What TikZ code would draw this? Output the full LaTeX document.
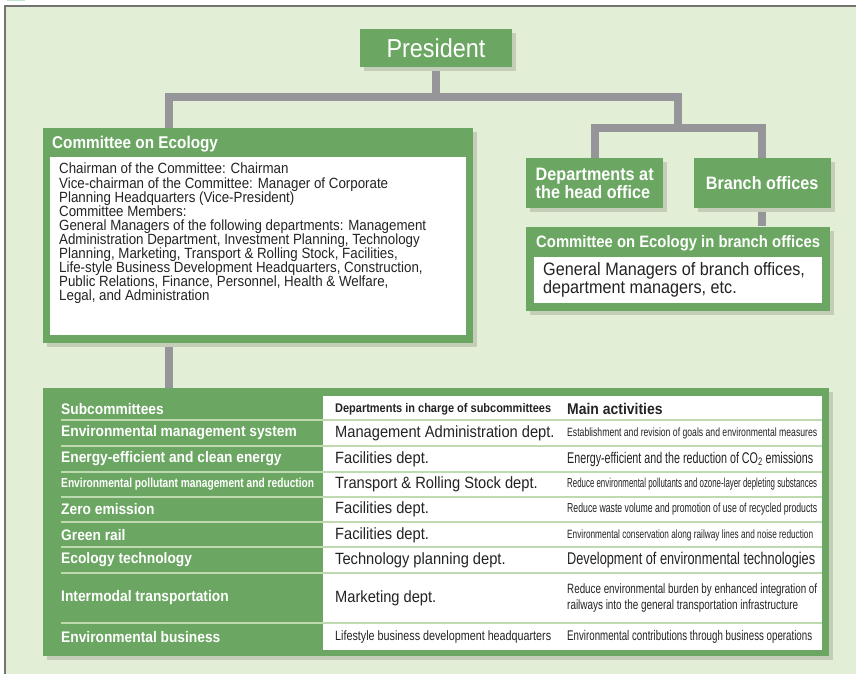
\documentclass[tikz,border=0pt]{standalone}
\usepackage{fontspec}
\setmainfont{Liberation Sans}[FakeStretch=0.9]
\usetikzlibrary{shadows,backgrounds,positioning}
\definecolor{ecogreen}{RGB}{107,166,98}
\definecolor{ecobg}{RGB}{226,239,214}
\definecolor{ecoshadow}{RGB}{196,205,184}
\definecolor{linkgray}{RGB}{150,150,154}
\definecolor{rowline}{RGB}{190,218,176}
\definecolor{framegray}{RGB}{115,115,115}
\definecolor{titlemark}{RGB}{190,230,214}
\definecolor{ink}{RGB}{35,35,35}
\newcommand{\sz}[2]{\fontsize{#1}{#2}\selectfont}
\newcommand{\fitw}[2]{\resizebox{#1pt}{\height}{#2}}
\begin{document}
\begin{tikzpicture}[x=1pt,y=-1pt,line join=miter,
	greenbox/.style={fill=ecogreen,text=white,inner sep=0pt,drop shadow={shadow xshift=4pt,shadow yshift=-4pt,fill=ecoshadow,opacity=1}},
	whitebox/.style={fill=white,inner sep=0pt},
	head/.style={text=white,inner sep=0pt,align=left},
	body/.style={text=ink,inner sep=0pt,align=left},
	link/.style={draw=linkgray,line width=8pt}]
	\useasboundingbox (0,0) rectangle (856,674);
	\begin{scope}[on background layer]
		\clip (0,0) rectangle (856,674);
		\fill[titlemark] (7,-6) rectangle (25,1.5);
		\filldraw[fill=ecobg,draw=framegray,line width=1.2pt] (5,6) rectangle (880,700);
	\end{scope}
	% top of the chart
	\node[greenbox,minimum width=152pt,minimum height=38pt,font=\sz{26}{28}] (pres) at (436,48) {President};
	\node[greenbox,minimum width=430pt,minimum height=215pt,anchor=north west] (eco) at (43,128) {};
	\node[head,font=\bfseries\sz{17}{19},anchor=base west] (ecotitle) at ([shift={(9,20)}]eco.north west) {Committee on Ecology};
	\node[whitebox,minimum width=416pt,minimum height=178pt,anchor=north west] (ecobody) at ([shift={(7,29)}]eco.north west) {};
	\node[body,font=\sz{14.8}{14.1},anchor=north west] (ecotext) at ([shift={(9,6)}]ecobody.north west) {Chairman of the Committee: Chairman\\
		Vice-chairman of the Committee: Manager of Corporate\\
		Planning Headquarters (Vice-President)\\
		Committee Members:\\
		General Managers of the following departments: Management\\
		Administration Department, Investment Planning, Technology\\
		Planning, Marketing, Transport \& Rolling Stock, Facilities,\\
		Life-style Business Development Headquarters, Construction,\\
		Public Relations, Finance, Personnel, Health \& Welfare,\\
		Legal, and Administration};
	% right side
	\node[greenbox,head,font=\bfseries\sz{18}{18},minimum width=137pt,minimum height=50pt,anchor=north west] (dept) at (526,158) {Departments at\\the head office};
	\node[greenbox,head,font=\bfseries\sz{18}{18},minimum width=137pt,minimum height=50pt,right=30pt of dept] (branch) {Branch offices};
	\node[greenbox,minimum width=304pt,minimum height=84pt,anchor=north west] (beco) at ([yshift=-18pt]dept.south west) {};
	\node[head,font=\bfseries\sz{16.5}{18},anchor=base west] (becotitle) at ([shift={(10,21)}]beco.north west) {Committee on Ecology in branch offices};
	\node[whitebox,minimum width=288pt,minimum height=46pt,anchor=north west] (becobody) at ([shift={(8,30)}]beco.north west) {};
	\node[body,font=\sz{18}{18},anchor=west] (becotext) at ([xshift=9pt]becobody.west) {General Managers of branch offices,\\department managers, etc.};
	% subcommittee table
	\node[greenbox,minimum width=786pt,minimum height=268pt,anchor=north west] (tab) at (43,388) {};
	\node[whitebox,minimum width=499pt,minimum height=254pt,anchor=north west] (tabw) at ([shift={(280,8)}]tab.north west) {};
	\foreach \yy in {420,446,472,497,522,547,573,623} {
		\draw[rowline,line width=1.3pt] (61,\yy) -- (822,\yy);
	}
	\node[head,font=\bfseries\sz{15.3}{17},anchor=west] (subhead) at (61,409) {Subcommittees};
	\node[body,font=\bfseries\sz{12.5}{14},anchor=west] (dephead) at (335,409) {\fitw{216}{Departments in charge of subcommittees}};
	\node[body,font=\bfseries\sz{15.5}{17},anchor=west] (acthead) at (567,409) {Main activities};
	\foreach \yy/\sub/\dep/\act [count=\i] in {
		433/Environmental management system/Management Administration dept./{\sz{12}{14}\fitw{250}{Establishment and revision of goals and environmental measures}},
		459/Energy-efficient and clean energy/Facilities dept./{\sz{15.5}{17}\fitw{246}{Energy-efficient and the reduction of CO\textsubscript{2} emissions}},
		484/{\sz{13}{15}\fitw{253}{Environmental pollutant management and reduction}}/Transport \& Rolling Stock dept./{\sz{13}{15}\fitw{250}{Reduce environmental pollutants and ozone-layer depleting substances}},
		509/Zero emission/Facilities dept./{\sz{13}{15}\fitw{250}{Reduce waste volume and promotion of use of recycled products}},
		535/Green rail/Facilities dept./{\sz{12}{14}\fitw{246}{Environmental conservation along railway lines and noise reduction}},
		560/Ecology technology/Technology planning dept./{\sz{17}{19}\fitw{248}{Development of environmental technologies}},
		598/Intermodal transportation/Marketing dept./{\sz{13.5}{19}\fitw{250}{Reduce environmental burden by enhanced integration of}\\\sz{13.5}{19}\fitw{231}{railways into the general transportation infrastructure}},
		637/Environmental business/{\sz{13.5}{15}\fitw{216}{Lifestyle business development headquarters}}/{\sz{14}{16}\fitw{245}{Environmental contributions through business operations}}} {
		\node[head,font=\bfseries\sz{15.3}{17},anchor=west] (sub\i) at (61,\yy) {\sub};
		\node[body,font=\sz{16.3}{18},anchor=west] (dep\i) at (335,\yy) {\dep};
		\node[body,font=\sz{14}{16},anchor=west] (act\i) at (567,\yy) {\act};
	}
	% connectors
	\begin{scope}[on background layer]
		\coordinate (jl) at (169,97);
		\coordinate (jr) at (678,97);
		\coordinate (jb) at (678,128);
		\draw[link] (pres.south) -- (pres.south |- jl);
		\draw[link] (jl |- eco.north) -- (jl) -- (jr) -- (jb);
		\draw[link] (dept.north) |- (jb) -| (branch.north);
		\draw[link] (branch.south) -- (branch.south |- beco.north);
		\draw[link] (jl |- eco.south) -- (jl |- tab.north);
	\end{scope}
\end{tikzpicture}
\end{document}
